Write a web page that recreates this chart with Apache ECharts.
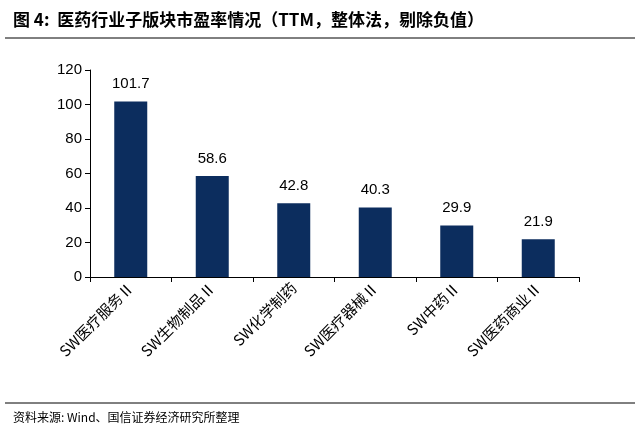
<!DOCTYPE html>
<html>
<head>
<meta charset="utf-8">
<script src="https://cdn.jsdelivr.net/npm/echarts@6/dist/echarts.min.js"></script>
<style>
body { margin: 0; background: #fff; }
#chart { width: 640px; height: 434px; }
</style>
</head>
<body>
<div id="chart"></div>
<script>
const categories = ['SW医疗服务Ⅱ', 'SW生物制品Ⅱ', 'SW化学制药', 'SW医疗器械Ⅱ', 'SW中药Ⅱ', 'SW医药商业Ⅱ']
const peValues = [101.7, 58.6, 42.8, 40.3, 29.9, 21.9]
const yTicks = { min: 0, max: 120, interval: 20 }

const chart = echarts.init(document.getElementById('chart'))
chart.setOption({
	animation: false,
	title: [
		{
			text: '图 4:  医药行业子版块市盈率情况（TTM，整体法，剔除负值）',
			left: 8,
			top: 6,
			textStyle: { fontSize: 17, fontWeight: 'bold', color: '#000', fontFamily: 'Noto Sans CJK SC' }
		},
		{
			text: '资料来源: Wind、国信证券经济研究所整理',
			left: 8,
			top: 406,
			textStyle: { fontSize: 12, fontWeight: 'normal', color: '#000', fontFamily: 'Noto Sans CJK SC' }
		}
	],
	graphic: [
		{ type: 'line', shape: { x1: 5, y1: 38, x2: 635, y2: 38 }, style: { stroke: '#000', lineWidth: 1 } },
		{ type: 'line', shape: { x1: 5, y1: 403, x2: 635, y2: 403 }, style: { stroke: '#000', lineWidth: 1 } }
	],
	grid: { left: 90, right: 61, top: 70, bottom: 157 },
	xAxis: {
		type: 'category',
		data: categories,
		axisLine: { lineStyle: { color: '#000' } },
		axisTick: { show: true, alignWithLabel: false, lineStyle: { color: '#000' } },
		axisLabel: { rotate: 45, color: '#000', fontSize: 15, fontFamily: 'Noto Sans CJK SC', interval: 0, margin: 8 }
	},
	yAxis: {
		type: 'value',
		...yTicks,
		axisLine: { show: true, lineStyle: { color: '#000' } },
		axisTick: { show: true, lineStyle: { color: '#000' } },
		splitLine: { show: false },
		axisLabel: { color: '#000', fontSize: 15, fontFamily: 'Arial' }
	},
	series: [{
		type: 'bar',
		data: peValues,
		barWidth: 33,
		itemStyle: { color: '#0c2d5e' },
		label: { show: true, position: 'top', distance: 10, color: '#000', fontSize: 15, fontFamily: 'Arial' }
	}]
})
</script>
</body>
</html>
